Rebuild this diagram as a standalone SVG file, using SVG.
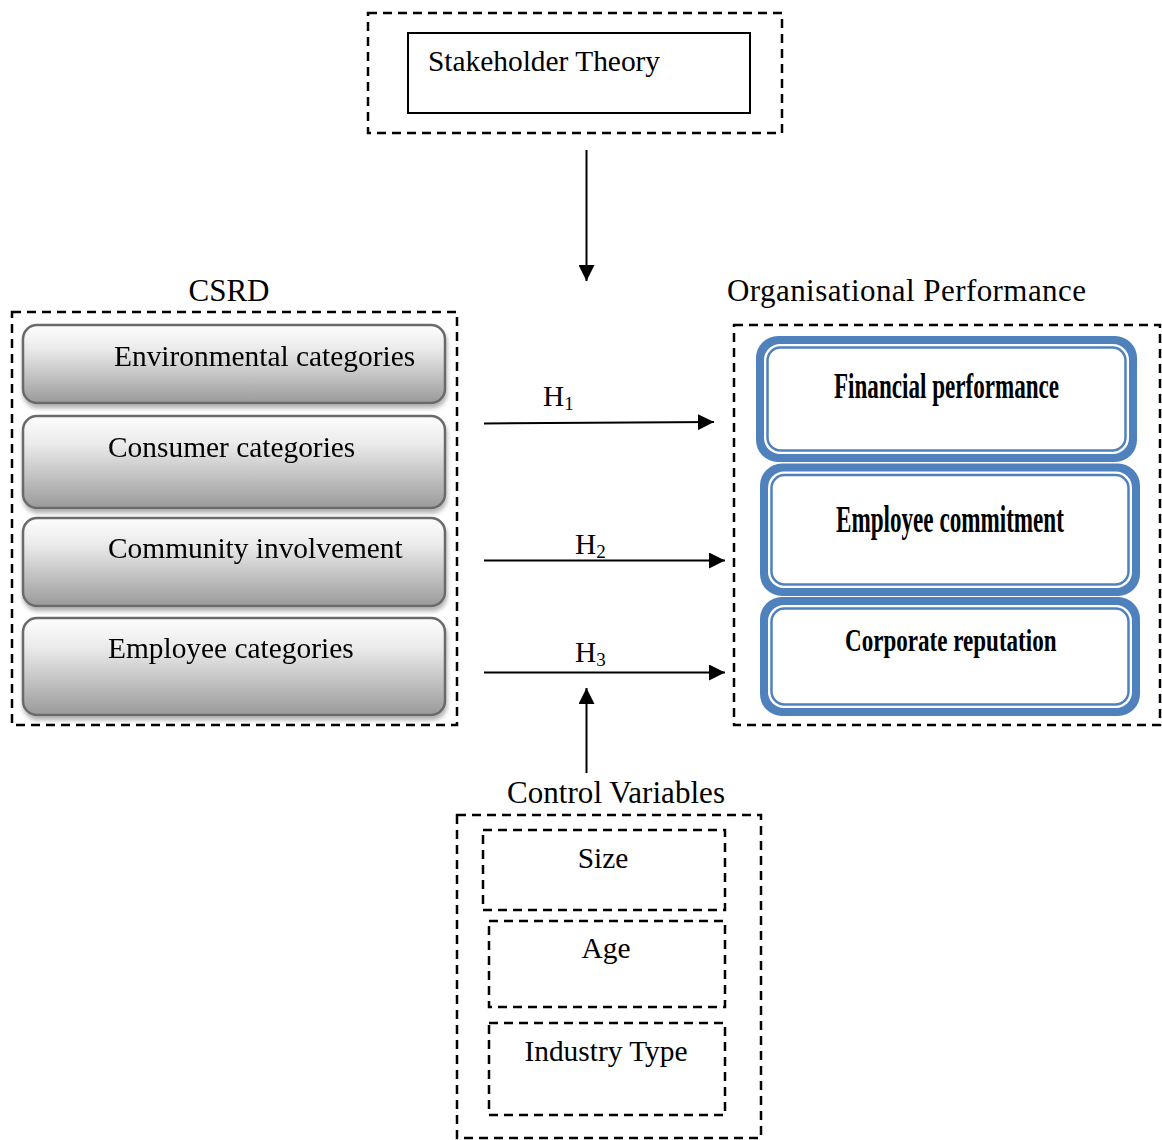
<svg xmlns="http://www.w3.org/2000/svg" width="1162" height="1140" viewBox="0 0 1162 1140">
<style>
text{font-family:"Liberation Serif","Times New Roman",serif;fill:#000}
.t{font-size:29.4px}
.ttl{font-size:31px}
.b{font-weight:bold}
.dash{fill:none;stroke:#000;stroke-width:2.5;stroke-dasharray:9 6}
.gray{fill:url(#gg);stroke:#6b6b6b;stroke-width:2.5}
.conn{stroke:#000;stroke-width:2;fill:none}
.blueO{fill:#4f81bd}
.blueW{fill:#fff}
.blueI{fill:#fff;stroke:#4f81bd;stroke-width:2.5}
</style>
<defs>
<linearGradient id="gg" x1="0" y1="0" x2="0" y2="1">
<stop offset="0" stop-color="#fdfdfd"/>
<stop offset="0.3" stop-color="#ebebeb"/>
<stop offset="1" stop-color="#9a9a9a"/>
</linearGradient>
<filter id="sh" x="-5%" y="-10%" width="110%" height="130%">
<feGaussianBlur in="SourceAlpha" stdDeviation="2"/>
<feOffset dx="1" dy="4" result="o"/>
<feComponentTransfer><feFuncA type="linear" slope="0.3"/></feComponentTransfer>
<feMerge><feMergeNode/><feMergeNode in="SourceGraphic"/></feMerge>
</filter>
<marker id="ah" viewBox="0 0 16 16" refX="16" refY="8" markerWidth="16" markerHeight="16" markerUnits="userSpaceOnUse" orient="auto">
<path d="M0,0 L16,8 L0,16 Z" fill="#000"/>
</marker>
</defs>

<g id="stakeholder">
<rect class="dash" x="368" y="13" width="414" height="120"/>
<rect x="408" y="33" width="342" height="80" fill="#fff" stroke="#000" stroke-width="2"/>
<text class="t" x="428" y="71">Stakeholder Theory</text>
</g>

<g id="csrd">
<text class="ttl" x="229" y="301" text-anchor="middle">CSRD</text>
<rect class="dash" x="12" y="312" width="445" height="413"/>
<g id="env" filter="url(#sh)">
<rect class="gray" x="23" y="325" width="422" height="78" rx="14"/>
<text class="t" x="114" y="366">Environmental categories</text>
</g>
<g id="consumer" filter="url(#sh)">
<rect class="gray" x="23" y="416" width="422" height="92" rx="14"/>
<text class="t" x="108" y="457">Consumer categories</text>
</g>
<g id="community" filter="url(#sh)">
<rect class="gray" x="23" y="518" width="422" height="88" rx="14"/>
<text class="t" x="108" y="558">Community involvement</text>
</g>
<g id="employee" filter="url(#sh)">
<rect class="gray" x="23" y="618" width="422" height="97" rx="14"/>
<text class="t" x="108" y="658">Employee categories</text>
</g>
</g>

<g id="orgperf">
<text class="ttl" x="727" y="301" textLength="359" lengthAdjust="spacing">Organisational Performance</text>
<rect class="dash" x="734" y="325" width="426" height="400"/>
<g id="financial">
<rect class="blueO" x="756" y="336" width="381" height="126" rx="22"/>
<rect class="blueW" x="764" y="344" width="365" height="110" rx="16"/>
<rect class="blueI" x="767.5" y="347.5" width="358" height="103" rx="13"/>
<text class="b" font-size="35" transform="translate(834,398) scale(0.66,1)">Financial performance</text>
</g>
<g id="commitment">
<rect class="blueO" x="760" y="463.5" width="380" height="132.5" rx="22"/>
<rect class="blueW" x="768" y="471.5" width="364" height="116.5" rx="16"/>
<rect class="blueI" x="771.5" y="475" width="357" height="109.5" rx="13"/>
<text class="b" font-size="37" transform="translate(836,532) scale(0.625,1)">Employee commitment</text>
</g>
<g id="reputation">
<rect class="blueO" x="760" y="597" width="380" height="119" rx="22"/>
<rect class="blueW" x="768" y="605" width="364" height="103" rx="16"/>
<rect class="blueI" x="771.5" y="608.5" width="357" height="96" rx="13"/>
<text class="b" font-size="31" transform="translate(845,651) scale(0.744,1)">Corporate reputation</text>
</g>
</g>

<g id="control">
<text class="ttl" x="507" y="803" textLength="218" lengthAdjust="spacing">Control Variables</text>
<rect class="dash" x="457" y="815" width="304" height="323"/>
<g id="size">
<rect class="dash" x="483" y="830" width="242" height="80"/>
<text class="t" x="603" y="868" text-anchor="middle">Size</text>
</g>
<g id="age">
<rect class="dash" x="489" y="921" width="236" height="86"/>
<text class="t" x="606" y="958" text-anchor="middle">Age</text>
</g>
<g id="industry">
<rect class="dash" x="489" y="1023" width="236" height="92"/>
<text class="t" x="606" y="1061" text-anchor="middle">Industry Type</text>
</g>
</g>

<g id="connectors">
<line class="conn" x1="586.5" y1="150" x2="586.5" y2="281" marker-end="url(#ah)"/>
<line class="conn" x1="484" y1="423.5" x2="714" y2="422" marker-end="url(#ah)"/>
<line class="conn" x1="484" y1="560.5" x2="725" y2="560.5" marker-end="url(#ah)"/>
<line class="conn" x1="484" y1="672.5" x2="725" y2="672.5" marker-end="url(#ah)"/>
<line class="conn" x1="586.5" y1="773" x2="586.5" y2="688" marker-end="url(#ah)"/>
<text class="t" x="543" y="406">H<tspan font-size="19" dy="4">1</tspan></text>
<text class="t" x="575" y="554">H<tspan font-size="19" dy="4">2</tspan></text>
<text class="t" x="575" y="662">H<tspan font-size="19" dy="4">3</tspan></text>
</g>
</svg>
